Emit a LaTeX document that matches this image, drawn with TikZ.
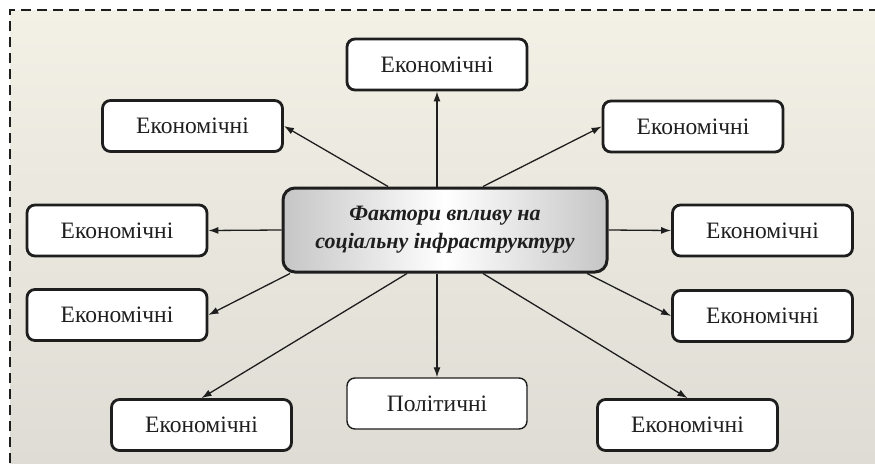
\documentclass[tikz,border=0pt]{standalone}
\usepackage{fontspec}
\setmainfont{Liberation Serif}
\usetikzlibrary{arrows.meta,shadows,calc}
\definecolor{ink}{RGB}{30,30,30}
\definecolor{bgtop}{RGB}{243,240,230}
\definecolor{bgmid}{RGB}{236,233,223}
\definecolor{bgbot}{RGB}{222,220,212}
\tikzset{
  fbox/.style={draw=ink, line width=2.8pt, rounded corners=8pt, fill=white,
    minimum width=180pt, minimum height=51pt, inner sep=0pt, text=ink,
    font=\fontsize{23.5}{26}\selectfont},
  thinbox/.style={fbox, line width=1.4pt},
  centerbox/.style={draw=ink, line width=3pt, rounded corners=12pt,
    left color=gray!45, right color=gray!45, middle color=white,
    minimum width=324pt, minimum height=84pt, inner sep=0pt, align=center, text=ink,
    font=\fontsize{22}{28}\selectfont\bfseries\itshape,
    drop shadow={opacity=0.25, shadow xshift=1pt, shadow yshift=-1pt}},
  arr/.style={draw=ink, line width=1.3pt, -{Latex[length=10pt,width=7pt]}},
  frame/.style={draw=ink, line width=2.5pt, dash pattern=on 10pt off 6pt}
}
\begin{document}
\begin{tikzpicture}[x=1pt,y=-1pt]
\useasboundingbox (0,0) rectangle (875,463);
\shade[top color=bgtop, middle color=bgmid, bottom color=bgbot] (10,10) rectangle (875,463);
\draw[frame] (10,463) -- (10,10) -- (875,10);

\node[fbox] (t)  at (437,64.5) {Економічні};
\node[fbox] (ul) at (192.5,126) {Економічні};
\node[fbox] (ur) at (693,126.5) {Економічні};
\node[fbox] (lm) at (117,230.5) {Економічні};
\node[fbox] (rm) at (762.5,230.5) {Економічні};
\node[fbox] (ll) at (117,315) {Економічні};
\node[fbox] (rl) at (762.5,316) {Економічні};
\node[fbox] (bl) at (201.5,425) {Економічні};
\node[thinbox] (p) at (437,403.5) {Політичні};
\node[fbox] (br) at (687.5,425) {Економічні};

\node[centerbox] (c) at (445,230) {Фактори впливу на\\соціальну інфраструктуру};

\draw[arr] (c.north -| t.south) -- (t.south);
\draw[arr] ($(c.north)+(-57,0)$) -- (ul.east);
\draw[arr] ($(c.north)+(38,0)$) -- (ur.west);
\draw[arr] (c.west) -- (lm.east);
\draw[arr] (c.east) -- (rm.west);
\draw[arr] ($(c.south)+(-155,0)$) -- (ll.east);
\draw[arr] ($(c.south)+(-38,0)$) -- (bl.north);
\draw[arr] (c.south -| p.north) -- (p.north);
\draw[arr] ($(c.south)+(38,0)$) -- (br.north);
\draw[arr] ($(c.south)+(142,0)$) -- (rl.west);
\end{tikzpicture}
\end{document}
